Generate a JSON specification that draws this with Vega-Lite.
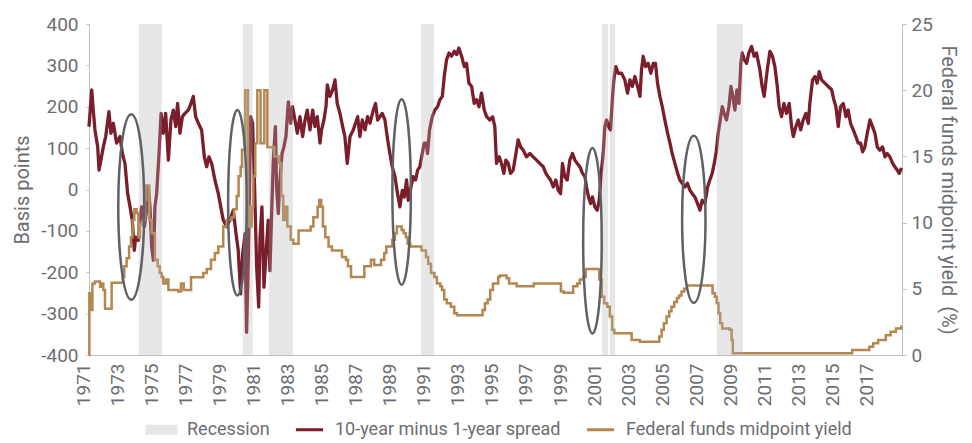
{
  "$schema": "https://vega.github.io/schema/vega-lite/v6.json",
  "width": 813,
  "height": 331,
  "autosize": {"type": "none"},
  "padding": {"left": 89, "top": 24, "right": 70, "bottom": 88},
  "background": "white",
  "config": {
    "view": {"stroke": null},
    "font": "Roboto, Liberation Sans, sans-serif",
    "axis": {
      "labelFont": "Roboto, Liberation Sans, sans-serif",
      "titleFont": "Roboto, Liberation Sans, sans-serif",
      "labelFontSize": 19,
      "titleFontSize": 20,
      "titleFontWeight": "normal",
      "labelColor": "#6d6e71",
      "titleColor": "#6d6e71",
      "domainColor": "#bfbfbf",
      "tickColor": "#bfbfbf",
      "grid": false
    },
    "axisX": {"labelOverlap": false},
    "legend": {
      "labelFont": "Roboto, Liberation Sans, sans-serif",
      "labelFontSize": 18,
      "labelColor": "#6d6e71",
      "labelLimit": 400
    }
  },
  "datasets": {
    "spread": [
      {"t":1971.00,"v":152},{"t":1971.16,"v":241},{"t":1971.25,"v":192},{"t":1971.35,"v":144},{"t":1971.51,"v":103},{"t":1971.59,"v":47},{"t":1971.70,"v":71},{"t":1971.84,"v":103},{"t":1971.98,"v":128},{"t":1972.17,"v":188},{"t":1972.29,"v":136},{"t":1972.43,"v":160},{"t":1972.62,"v":112},{"t":1972.82,"v":128},{"t":1972.96,"v":87},{"t":1973.11,"v":63},{"t":1973.27,"v":-10},{"t":1973.41,"v":-42},{"t":1973.54,"v":-74},{"t":1973.66,"v":-147},{"t":1973.74,"v":-115},{"t":1973.90,"v":-123},{"t":1973.99,"v":-74},{"t":1974.09,"v":-42},{"t":1974.25,"v":-90},{"t":1974.38,"v":-50},{"t":1974.48,"v":6},{"t":1974.58,"v":-42},{"t":1974.68,"v":-139},{"t":1974.78,"v":-171},{"t":1974.87,"v":-42},{"t":1974.97,"v":-10},{"t":1975.11,"v":87},{"t":1975.23,"v":184},{"t":1975.36,"v":136},{"t":1975.50,"v":184},{"t":1975.66,"v":71},{"t":1975.81,"v":168},{"t":1975.95,"v":192},{"t":1976.09,"v":152},{"t":1976.20,"v":208},{"t":1976.34,"v":136},{"t":1976.48,"v":176},{"t":1976.63,"v":184},{"t":1976.83,"v":192},{"t":1976.99,"v":208},{"t":1977.12,"v":225},{"t":1977.26,"v":176},{"t":1977.42,"v":160},{"t":1977.61,"v":144},{"t":1977.77,"v":79},{"t":1977.91,"v":55},{"t":1978.04,"v":79},{"t":1978.20,"v":63},{"t":1978.39,"v":23},{"t":1978.59,"v":-10},
      {"t":1978.88,"v":-74},{"t":1979.08,"v":-90},{"t":1979.27,"v":-74},{"t":1979.47,"v":-50},{"t":1979.63,"v":-107},{"t":1979.76,"v":-147},{"t":1979.90,"v":-252},{"t":1980.02,"v":-155},{"t":1980.16,"v":-107},{"t":1980.25,"v":-345},{"t":1980.35,"v":-171},{"t":1980.49,"v":176},{"t":1980.60,"v":160},{"t":1980.72,"v":6},{"t":1980.84,"v":-187},{"t":1980.96,"v":-284},{"t":1981.04,"v":-115},{"t":1981.15,"v":-42},{"t":1981.27,"v":-236},{"t":1981.39,"v":-155},{"t":1981.52,"v":-74},{"t":1981.62,"v":-196},{"t":1981.72,"v":-58},{"t":1981.82,"v":71},{"t":1981.94,"v":152},{"t":1982.01,"v":6},{"t":1982.11,"v":-58},{"t":1982.21,"v":23},{"t":1982.33,"v":87},{"t":1982.44,"v":103},{"t":1982.56,"v":128},{"t":1982.70,"v":212},{"t":1982.84,"v":160},{"t":1982.95,"v":200},{"t":1983.09,"v":168},{"t":1983.23,"v":136},{"t":1983.38,"v":176},{"t":1983.54,"v":128},{"t":1983.68,"v":168},{"t":1983.81,"v":192},{"t":1983.97,"v":144},{"t":1984.13,"v":192},{"t":1984.26,"v":152},{"t":1984.40,"v":176},{"t":1984.56,"v":112},{"t":1984.65,"v":144},{"t":1984.79,"v":168},{"t":1984.91,"v":200},{"t":1984.99,"v":253},{"t":1985.14,"v":225},{"t":1985.30,"v":241},{"t":1985.44,"v":265},{"t":1985.57,"v":208},{"t":1985.73,"v":184},{"t":1985.89,"v":152},{"t":1986.02,"v":128},{"t":1986.16,"v":63},{"t":1986.32,"v":128},{"t":1986.51,"v":144},
      {"t":1986.77,"v":176},{"t":1986.90,"v":128},{"t":1987.04,"v":168},{"t":1987.20,"v":144},{"t":1987.35,"v":176},{"t":1987.49,"v":160},{"t":1987.69,"v":192},{"t":1987.82,"v":208},{"t":1987.94,"v":168},{"t":1988.08,"v":176},{"t":1988.21,"v":184},{"t":1988.37,"v":168},{"t":1988.53,"v":120},{"t":1988.66,"v":87},{"t":1988.80,"v":55},{"t":1988.96,"v":31},{"t":1989.11,"v":-10},{"t":1989.25,"v":-42},{"t":1989.39,"v":-2},{"t":1989.51,"v":-18},{"t":1989.64,"v":23},{"t":1989.74,"v":-26},{"t":1989.90,"v":6},{"t":1990.03,"v":31},{"t":1990.17,"v":23},{"t":1990.29,"v":47},{"t":1990.42,"v":55},{"t":1990.56,"v":87},{"t":1990.68,"v":112},{"t":1990.80,"v":112},{"t":1990.87,"v":87},{"t":1990.99,"v":144},{"t":1991.15,"v":176},{"t":1991.30,"v":192},{"t":1991.46,"v":200},{"t":1991.60,"v":217},{"t":1991.74,"v":225},{"t":1991.85,"v":273},{"t":1991.99,"v":314},{"t":1992.13,"v":330},{"t":1992.28,"v":322},{"t":1992.44,"v":334},{"t":1992.58,"v":326},{"t":1992.71,"v":342},{"t":1992.87,"v":322},{"t":1993.03,"v":297},{"t":1993.16,"v":305},{"t":1993.30,"v":257},{"t":1993.46,"v":249},{"t":1993.61,"v":208},{"t":1993.75,"v":217},{"t":1993.89,"v":200},{"t":1994.04,"v":233},{"t":1994.20,"v":192},{"t":1994.34,"v":176},{"t":1994.53,"v":168},
      {"t":1994.69,"v":176},{"t":1994.82,"v":152},{"t":1994.92,"v":63},{"t":1995.08,"v":79},{"t":1995.21,"v":63},{"t":1995.35,"v":39},{"t":1995.47,"v":71},{"t":1995.61,"v":63},{"t":1995.74,"v":39},{"t":1995.90,"v":47},{"t":1996.06,"v":87},{"t":1996.19,"v":120},{"t":1996.33,"v":103},{"t":1996.49,"v":95},{"t":1996.68,"v":79},{"t":1996.88,"v":87},{"t":1997.07,"v":79},{"t":1997.27,"v":71},{"t":1997.46,"v":63},{"t":1997.66,"v":55},{"t":1997.82,"v":39},{"t":1997.95,"v":31},{"t":1998.09,"v":23},{"t":1998.25,"v":6},{"t":1998.40,"v":23},{"t":1998.54,"v":-2},{"t":1998.68,"v":-10},{"t":1998.79,"v":63},{"t":1998.93,"v":31},{"t":1999.07,"v":23},{"t":1999.22,"v":71},{"t":1999.38,"v":87},{"t":1999.52,"v":71},{"t":1999.66,"v":63},{"t":1999.81,"v":55},{"t":1999.97,"v":39},{"t":2000.11,"v":31},{"t":2000.20,"v":6},{"t":2000.32,"v":-18},{"t":2000.44,"v":-34},{"t":2000.55,"v":-18},{"t":2000.69,"v":-42},{"t":2000.83,"v":-50},{"t":2000.95,"v":-26},{"t":2001.06,"v":39},{"t":2001.18,"v":87},{"t":2001.28,"v":152},{"t":2001.38,"v":168},{"t":2001.49,"v":152},{"t":2001.61,"v":144},{"t":2001.73,"v":225},{"t":2001.81,"v":265},{"t":2001.92,"v":297},{"t":2002.06,"v":281},{"t":2002.26,"v":281},{"t":2002.45,"v":265},
      {"t":2002.61,"v":233},{"t":2002.75,"v":265},{"t":2002.89,"v":249},{"t":2003.04,"v":273},{"t":2003.20,"v":249},{"t":2003.34,"v":225},{"t":2003.43,"v":289},{"t":2003.53,"v":322},{"t":2003.67,"v":297},{"t":2003.82,"v":305},{"t":2003.98,"v":281},{"t":2004.12,"v":305},{"t":2004.25,"v":305},{"t":2004.37,"v":257},{"t":2004.51,"v":225},{"t":2004.65,"v":200},{"t":2004.80,"v":168},{"t":2004.96,"v":136},{"t":2005.10,"v":112},{"t":2005.23,"v":87},{"t":2005.39,"v":63},{"t":2005.55,"v":39},{"t":2005.68,"v":23},{"t":2005.82,"v":15},{"t":2005.98,"v":6},{"t":2006.13,"v":15},{"t":2006.27,"v":-2},{"t":2006.41,"v":-10},{"t":2006.56,"v":-18},{"t":2006.72,"v":-34},{"t":2006.86,"v":-50},{"t":2006.99,"v":-26},{"t":2007.15,"v":-34},{"t":2007.31,"v":6},{"t":2007.44,"v":23},{"t":2007.58,"v":39},{"t":2007.70,"v":63},{"t":2007.83,"v":95},{"t":2007.93,"v":136},{"t":2008.05,"v":168},{"t":2008.17,"v":200},{"t":2008.28,"v":184},{"t":2008.42,"v":168},{"t":2008.56,"v":200},{"t":2008.68,"v":249},{"t":2008.79,"v":225},{"t":2008.91,"v":192},{"t":2009.03,"v":241},{"t":2009.15,"v":208},{"t":2009.26,"v":305},{"t":2009.34,"v":330},{"t":2009.46,"v":314},{"t":2009.60,"v":305},{"t":2009.73,"v":330},{"t":2009.89,"v":346},{"t":2010.04,"v":322},{"t":2010.18,"v":330},{"t":2010.38,"v":289},{"t":2010.51,"v":249},{"t":2010.63,"v":225},
      {"t":2010.81,"v":289},{"t":2010.97,"v":334},{"t":2011.12,"v":322},{"t":2011.26,"v":297},{"t":2011.40,"v":249},{"t":2011.51,"v":200},{"t":2011.65,"v":176},{"t":2011.79,"v":208},{"t":2011.94,"v":184},{"t":2012.10,"v":208},{"t":2012.24,"v":152},{"t":2012.34,"v":128},{"t":2012.49,"v":152},{"t":2012.63,"v":168},{"t":2012.77,"v":144},{"t":2012.92,"v":168},{"t":2013.08,"v":184},{"t":2013.22,"v":160},{"t":2013.31,"v":208},{"t":2013.47,"v":265},{"t":2013.61,"v":273},{"t":2013.74,"v":257},{"t":2013.86,"v":285},{"t":2014.00,"v":265},{"t":2014.19,"v":257},{"t":2014.39,"v":249},{"t":2014.59,"v":241},{"t":2014.72,"v":217},{"t":2014.84,"v":200},{"t":2014.98,"v":152},{"t":2015.11,"v":200},{"t":2015.27,"v":208},{"t":2015.43,"v":176},{"t":2015.56,"v":192},{"t":2015.70,"v":160},{"t":2015.86,"v":144},{"t":2016.01,"v":128},{"t":2016.15,"v":112},{"t":2016.29,"v":112},{"t":2016.41,"v":91},{"t":2016.54,"v":103},{"t":2016.68,"v":136},{"t":2016.84,"v":168},{"t":2016.99,"v":152},{"t":2017.13,"v":136},{"t":2017.27,"v":103},{"t":2017.42,"v":95},{"t":2017.58,"v":103},{"t":2017.72,"v":79},{"t":2017.85,"v":87},{"t":2018.01,"v":79},{"t":2018.17,"v":63},{"t":2018.30,"v":55},{"t":2018.44,"v":47},{"t":2018.56,"v":39},{"t":2018.69,"v":52}
    ],
    "fed": [
      {"t":1971.00,"v":0},{"t":1971.02,"v":4.66},{"t":1971.08,"v":3.4},{"t":1971.2,"v":5.4},{"t":1971.35,"v":5.55},{"t":1971.65,"v":5.15},{"t":1971.74,"v":5.4},{"t":1971.84,"v":4.9},{"t":1971.94,"v":3.5},{"t":1972.33,"v":5.45},{"t":1972.98,"v":5.9},{"t":1973.07,"v":6.7},{"t":1973.21,"v":7.3},{"t":1973.35,"v":8.2},{"t":1973.46,"v":8.9},{"t":1973.56,"v":10.2},{"t":1973.66,"v":11.0},{"t":1973.8,"v":10.7},{"t":1973.9,"v":8.9},{"t":1973.99,"v":9.9},{"t":1974.19,"v":10.2},{"t":1974.29,"v":11.7},{"t":1974.36,"v":12.8},{"t":1974.54,"v":10.2},{"t":1974.68,"v":9.2},{"t":1974.87,"v":7.2},{"t":1975.03,"v":6.7},{"t":1975.15,"v":6.2},{"t":1975.26,"v":5.9},{"t":1975.36,"v":5.4},{"t":1975.52,"v":5.7},{"t":1975.66,"v":4.9},{"t":1976.24,"v":4.8},{"t":1976.4,"v":5.4},{"t":1976.56,"v":4.9},{"t":1976.99,"v":5.87},{"t":1977.71,"v":6.2},{"t":1977.91,"v":6.5},{"t":1978.16,"v":7.2},{"t":1978.39,"v":7.7},{"t":1978.59,"v":8.2},{"t":1978.88,"v":9.7},{"t":1979.08,"v":10.2},{"t":1979.37,"v":10.4},{"t":1979.51,"v":11.0},{"t":1979.67,"v":12.0},{"t":1979.78,"v":13.5},{"t":1979.9,"v":14.2},{"t":1979.98,"v":15.5},{"t":1980.17,"v":20.0},{"t":1980.33,"v":11.2},{"t":1980.41,"v":9.7},{"t":1980.55,"v":11.2},{"t":1980.64,"v":13.5},{"t":1980.76,"v":16.0},{"t":1980.88,"v":20.0},{"t":1981.07,"v":16.0},{"t":1981.29,"v":20.0},{"t":1981.47,"v":15.7},{"t":1981.88,"v":15.0},{"t":1982.17,"v":14.5},{"t":1982.29,"v":12.0},{"t":1982.4,"v":10.2},{"t":1982.52,"v":11.2},{"t":1982.64,"v":9.7},{"t":1982.84,"v":8.7},{"t":1982.99,"v":8.4},{"t":1983.3,"v":9.4},{"t":1984.01,"v":9.7},{"t":1984.17,"v":10.4},{"t":1984.42,"v":11.2},{"t":1984.52,"v":11.7},{"t":1984.63,"v":11.2},{"t":1984.73,"v":9.7},{"t":1984.87,"v":8.9},{"t":1985.06,"v":8.2},{"t":1985.26,"v":7.9},{"t":1985.85,"v":7.4},{"t":1986.08,"v":7.2},{"t":1986.2,"v":6.7},{"t":1986.38,"v":5.9},{"t":1987.16,"v":6.7},{"t":1987.55,"v":7.2},{"t":1987.74,"v":6.8},{"t":1988.14,"v":7.2},{"t":1988.33,"v":7.7},{"t":1988.45,"v":8.2},{"t":1988.8,"v":8.7},{"t":1988.96,"v":9.2},{"t":1989.07,"v":9.7},{"t":1989.35,"v":9.45},{"t":1989.47,"v":9.2},{"t":1989.6,"v":8.9},{"t":1989.7,"v":8.4},{"t":1989.86,"v":8.2},{"t":1990.52,"v":7.9},{"t":1990.78,"v":7.4},{"t":1990.91,"v":6.9},{"t":1991.07,"v":6.2},{"t":1991.27,"v":5.9},{"t":1991.42,"v":5.4},{"t":1991.62,"v":5.2},{"t":1991.72,"v":4.9},{"t":1991.85,"v":4.2},{"t":1992.0,"v":3.9},{"t":1992.24,"v":3.65},{"t":1992.44,"v":3.15},{"t":1992.6,"v":3.0},{"t":1994.1,"v":3.4},{"t":1994.24,"v":3.9},{"t":1994.4,"v":4.2},{"t":1994.55,"v":4.9},{"t":1994.71,"v":5.4},{"t":1995.02,"v":5.9},{"t":1995.12,"v":6.0},{"t":1995.51,"v":5.8},{"t":1995.66,"v":5.4},{"t":1996.1,"v":5.2},{"t":1997.11,"v":5.4},{"t":1998.7,"v":4.8},{"t":1998.87,"v":4.7},{"t":1999.42,"v":5.2},{"t":1999.66,"v":5.4},{"t":1999.81,"v":5.7},{"t":2000.01,"v":5.9},{"t":2000.16,"v":6.5},{"t":2000.95,"v":5.7},{"t":2001.1,"v":4.4},{"t":2001.24,"v":3.9},{"t":2001.42,"v":3.65},{"t":2001.57,"v":2.9},{"t":2001.71,"v":1.9},{"t":2001.83,"v":1.65},{"t":2002.85,"v":1.13},{"t":2003.34,"v":1.0},{"t":2004.47,"v":1.4},{"t":2004.61,"v":1.9},{"t":2004.74,"v":2.4},{"t":2004.9,"v":2.9},{"t":2005.06,"v":3.3},{"t":2005.19,"v":3.65},{"t":2005.35,"v":4.0},{"t":2005.51,"v":4.3},{"t":2005.64,"v":4.5},{"t":2005.78,"v":4.8},{"t":2005.94,"v":5.0},{"t":2006.09,"v":5.25},{"t":2007.6,"v":4.66},{"t":2007.74,"v":4.4},{"t":2007.85,"v":3.9},{"t":2007.95,"v":3.15},{"t":2008.05,"v":2.4},{"t":2008.17,"v":2.0},{"t":2008.6,"v":1.9},{"t":2008.72,"v":1.13},{"t":2008.79,"v":0.13},{"t":2015.8,"v":0.38},{"t":2016.8,"v":0.63},{"t":2017.03,"v":0.88},{"t":2017.32,"v":1.13},{"t":2017.77,"v":1.5},{"t":2018.05,"v":1.75},{"t":2018.36,"v":2.0},{"t":2018.69,"v":2.15},{"t":2018.72,"v":2.15}
    ],
    "recessions": [
      {"s":1973.92,"e":1975.27},{"s":1980.03,"e":1980.61},{"s":1981.56,"e":1982.97},{"s":1990.49,"e":1991.25},{"s":2001.1,"e":2001.46},{"s":2001.57,"e":2001.88},{"s":2007.86,"e":2009.39}
    ],
    "ellipses": [
      {"id":"a","t":1973.48,"v":-42},{"id":"b","t":1979.71,"v":-32},{"id":"c","t":1989.35,"v":-6},{"id":"d","t":2000.55,"v":-124},{"id":"e","t":2006.5,"v":-72}
    ]
  },
  "layer": [
    {
      "layer": [
        {
          "mark": {"type": "rule", "color": "#bfbfbf", "strokeWidth": 1},
          "encoding": {
            "y": {"datum": 0, "type": "quantitative", "scale": {"domain": [-400, 400], "nice": false},
              "axis": {"title": "Basis points", "values": [-400,-300,-200,-100,0,100,200,300,400], "labelExpr": "datum.value < 0 ? '-' + abs(datum.value) : '' + datum.value", "tickSize": 3, "labelPadding": 8, "titlePadding": 8}}
          }
        },
        {
          "data": {"name": "spread"},
          "mark": {"type": "line", "strokeWidth": 3.3, "strokeJoin": "round"},
          "encoding": {
            "x": {"field": "t", "type": "quantitative", "scale": {"domain": [1971, 2018.72], "nice": false, "zero": false},
              "axis": {"title": null, "values": [1971,1973,1975,1977,1979,1981,1983,1985,1987,1989,1991,1993,1995,1997,1999,2001,2003,2005,2007,2009,2011,2013,2015,2017], "tickCount": 40, "format": "d", "labelAngle": 270, "labelOffset": -6, "labelOverlap": false, "ticks": false, "labelPadding": 8}},
            "y": {"field": "v", "type": "quantitative",
              "axis": {"title": "Basis points", "values": [-400,-300,-200,-100,0,100,200,300,400], "labelExpr": "datum.value < 0 ? '-' + abs(datum.value) : '' + datum.value", "tickSize": 3, "labelPadding": 8, "titlePadding": 8}},
            "color": {"datum": "10-year minus 1-year spread", "type": "nominal",
              "scale": {"domain": ["Recession", "10-year minus 1-year spread", "Federal funds midpoint yield"], "range": ["#b0b0b0", "#7a1e2c", "#b3874f"]},
              "legend": {
                "title": null, "orient": "none", "direction": "horizontal", "legendX": 55, "legendY": 388,
                "symbolSize": 1024, "columnPadding": 19, "labelOffset": 8, "labelLimit": 400,
                "encode": {"symbols": {"update": {
                  "shape": {"signal": "datum.value === 'Recession' ? 'M-1,-0.32H1V0.32H-1Z' : 'M-0.85,0H0.85'"},
                  "fillOpacity": {"signal": "datum.value === 'Recession' ? 0.32 : 0"},
                  "strokeOpacity": {"signal": "datum.value === 'Recession' ? 0 : 1"},
                  "strokeWidth": {"value": 3},
                  "opacity": {"value": 1}
                }}}
              }}
          }
        }
      ]
    },
    {
      "data": {"name": "fed"},
      "mark": {"type": "line", "strokeWidth": 2.5, "interpolate": "step-after"},
      "encoding": {
        "x": {"field": "t", "type": "quantitative"},
        "y": {"field": "v", "type": "quantitative", "scale": {"domain": [0, 25], "nice": false},
          "axis": {"orient": "right", "title": "Federal funds midpoint yield\u00a0 (%)", "values": [0,5,10,15,20,25], "tickSize": 4, "labelPadding": 5, "titlePadding": 5}},
        "color": {"datum": "Federal funds midpoint yield", "type": "nominal"}
      }
    },
    {
      "layer": [
        {
          "data": {"name": "recessions"},
          "mark": {"type": "rect", "opacity": 0.3},
          "encoding": {
            "x": {"field": "s", "type": "quantitative"},
            "x2": {"field": "e"},
            "color": {"datum": "Recession", "type": "nominal"}
          }
        },
        {
          "data": {"name": "ellipses"},
          "mark": {"type": "point", "filled": false, "size": 34410, "strokeWidth": 2.5, "color": "#5e6166", "opacity": 1},
          "encoding": {
            "x": {"field": "t", "type": "quantitative"},
            "y": {"field": "v", "type": "quantitative", "scale": {"domain": [-400, 400], "nice": false}, "axis": null},
            "shape": {"field": "id", "type": "nominal", "legend": null,
              "scale": {"domain": ["a","b","c","d","e"], "range": [
                "M0,-1C0.0773,-1 0.14,-0.5523 0.14,0C0.14,0.5523 0.0773,1 0,1C-0.0773,1 -0.14,0.5523 -0.14,0C-0.14,-0.5523 -0.0773,-1 0,-1Z",
                "M0,-1C0.0552,-1 0.1,-0.5523 0.1,0C0.1,0.5523 0.0552,1 0,1C-0.0552,1 -0.1,0.5523 -0.1,0C-0.1,-0.5523 -0.0552,-1 0,-1Z",
                "M0,-1C0.0552,-1 0.1,-0.5523 0.1,0C0.1,0.5523 0.0552,1 0,1C-0.0552,1 -0.1,0.5523 -0.1,0C-0.1,-0.5523 -0.0552,-1 0,-1Z",
                "M0,-1C0.0552,-1 0.1,-0.5523 0.1,0C0.1,0.5523 0.0552,1 0,1C-0.0552,1 -0.1,0.5523 -0.1,0C-0.1,-0.5523 -0.0552,-1 0,-1Z",
                "M0,-0.9C0.0696,-0.9 0.126,-0.497 0.126,0C0.126,0.497 0.0696,0.9 0,0.9C-0.0696,0.9 -0.126,0.497 -0.126,0C-0.126,-0.497 -0.0696,-0.9 0,-0.9Z"
              ]}}
          }
        }
      ]
    }
  ],
  "resolve": {"scale": {"y": "independent"}}
}
